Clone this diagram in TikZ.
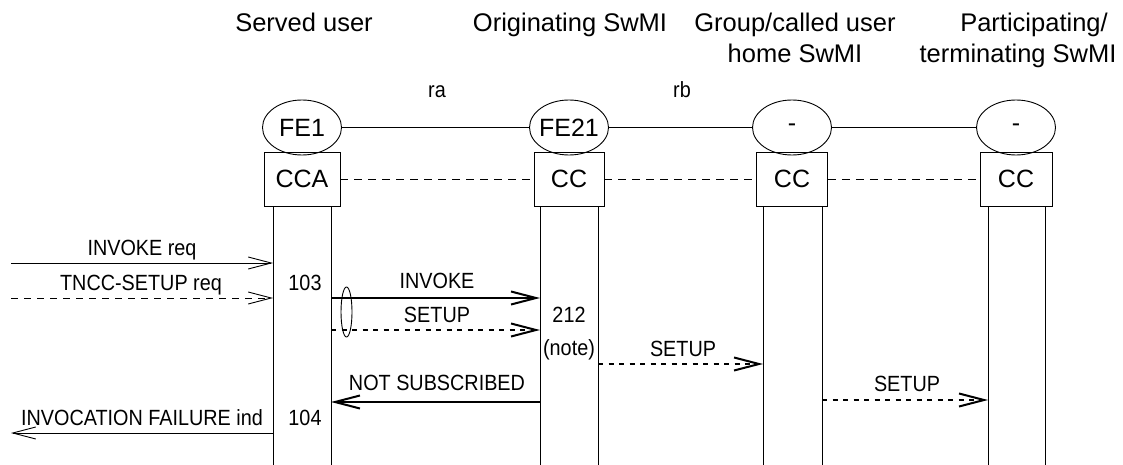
\documentclass[tikz,border=0pt]{standalone}
\usepackage{fontspec}
\setmainfont{Liberation Sans}
\newfontfamily\msgfont[FakeStretch=0.9]{Liberation Sans}
\usetikzlibrary{arrows.meta,shapes.geometric}
\begin{document}
\begin{tikzpicture}[x=1pt,y=-1pt,
  hdr/.style={font=\fontsize{25.5}{31}\selectfont, inner sep=0pt, anchor=base},
  lbl/.style={font=\msgfont\fontsize{22}{26}\selectfont, inner sep=0pt, anchor=base},
  fe/.style={draw, ellipse, minimum width=79pt, minimum height=55pt, inner sep=0pt, line width=0.9pt},
  fetext/.style={font=\fontsize{25}{30}\selectfont, inner sep=0pt},
  ccbox/.style={draw, rectangle, minimum height=54pt, inner sep=0pt, line width=0.9pt, font=\fontsize{25}{30}\selectfont},
  life/.style={line width=0.9pt},
  thinarr/.style={line width=0.9pt, -{Straight Barb[length=23pt,width=12pt]}},
  thickarr/.style={line width=2pt, -{Straight Barb[length=25pt,width=13pt]}},
  thindash/.style={dash pattern=on 7pt off 6pt},
  thickdot/.style={dash pattern=on 5pt off 5.5pt}
]
\useasboundingbox (0,0) rectangle (1123,465);

% headers
\node[hdr] (h1) at (304,32) {Served user};
\node[hdr] (h2) at (570,32) {Originating SwMI};
\node[hdr] (h3a) at (795,32) {Group/called user};
\node[hdr] (h3b) at (795,63) {home SwMI};
\node[hdr] (h4a) at (1034,32) {Participating/};
\node[hdr] (h4b) at (1018,63) {terminating SwMI};

% relationship labels
\node[lbl] (ra) at (437,98) {ra};
\node[lbl] (rb) at (682,98) {rb};

% functional entities
\node[fe] (fe1) at (302,127.5) {};
\node[fe] (fe2) at (569,127.5) {};
\node[fe] (fe3) at (792,127.5) {};
\node[fe] (fe4) at (1016,127.5) {};
\node[fetext] (fe1t) at (fe1) {FE1};
\node[fetext] (fe2t) at (fe2) {FE21};
\node[fetext] (fe3t) at (fe3) {-};
\node[fetext] (fe4t) at (fe4) {-};
\draw[line width=0.9pt] (fe1) -- (fe2);
\draw[line width=0.9pt] (fe2) -- (fe3);
\draw[line width=0.9pt] (fe3) -- (fe4);

% boxes
\node[ccbox, minimum width=76pt] (b1) at (302,179) {CCA};
\node[ccbox, minimum width=70pt] (b2) at (569,179) {CC};
\node[ccbox, minimum width=71pt] (b3) at (792,179) {CC};
\node[ccbox, minimum width=72pt] (b4) at (1016,179) {CC};
\draw[line width=0.9pt, dash pattern=on 8pt off 6pt] (b1) -- (b2);
\draw[line width=0.9pt, dash pattern=on 8pt off 6pt] (b2) -- (b3);
\draw[line width=0.9pt, dash pattern=on 8pt off 6pt] (b3) -- (b4);

% lifelines
\coordinate (l1at) at (273,206); \coordinate (l1ab) at (273,465);
\coordinate (l1bt) at (331,206); \coordinate (l1bb) at (331,465);
\coordinate (l2at) at (540,206); \coordinate (l2ab) at (540,465);
\coordinate (l2bt) at (598,206); \coordinate (l2bb) at (598,465);
\coordinate (l3at) at (763,206); \coordinate (l3ab) at (763,465);
\coordinate (l3bt) at (822,206); \coordinate (l3bb) at (822,465);
\coordinate (l4at) at (988,206); \coordinate (l4ab) at (988,465);
\coordinate (l4bt) at (1045,206); \coordinate (l4bb) at (1045,465);
\draw[life] (l1at) -- (l1ab);
\draw[life] (l1bt) -- (l1bb);
\draw[life] (l2at) -- (l2ab);
\draw[life] (l2bt) -- (l2bb);
\draw[life] (l3at) -- (l3ab);
\draw[life] (l3bt) -- (l3bb);
\draw[life] (l4at) -- (l4ab);
\draw[life] (l4bt) -- (l4bb);

% message end points
\coordinate (m1s) at (11,263);  \coordinate (m1e) at (273,263);
\coordinate (m2s) at (11,298);  \coordinate (m2e) at (273,298);
\coordinate (m3s) at (331,298); \coordinate (m3e) at (540,298);
\coordinate (m4s) at (331,330); \coordinate (m4e) at (540,330);
\coordinate (m5s) at (598,364); \coordinate (m5e) at (763,364);
\coordinate (m6s) at (540,402); \coordinate (m6e) at (331,402);
\coordinate (m7s) at (273,433); \coordinate (m7e) at (11,433);
\coordinate (m8s) at (822,400); \coordinate (m8e) at (988,400);

% messages
\draw[thinarr] (m1s) -- (m1e);
\node[lbl] (t1) at (142,255) {INVOKE req};
\draw[thinarr, thindash] (m2s) -- (m2e);
\node[lbl] (t2) at (141,290) {TNCC-SETUP req};
\node[lbl] (n103) at (305,290) {103};

\draw[thickarr] (m3s) -- (m3e);
\node[lbl] (t3) at (437,288) {INVOKE};
\draw[thickarr, thickdot] (m4s) -- (m4e);
\node[lbl] (t4) at (437,322) {SETUP};
\node[draw, ellipse, line width=0.9pt, minimum width=11pt, minimum height=50pt, inner sep=0pt] (grp) at (346.5,312) {};

\node[lbl] (n212) at (569,322) {212};
\node[lbl] (note) at (569,355) {(note)};

\draw[thickarr, thickdot] (m5s) -- (m5e);
\node[lbl] (t5) at (683,356) {SETUP};

\draw[thickarr] (m6s) -- (m6e);
\node[lbl] (t6) at (437,390) {NOT SUBSCRIBED};
\node[lbl] (n104) at (305,425) {104};
\draw[thinarr] (m7s) -- (m7e);
\node[lbl] (t7) at (142,425) {INVOCATION FAILURE ind};

\draw[thickarr, thickdot] (m8s) -- (m8e);
\node[lbl] (t8) at (907,391) {SETUP};
\end{tikzpicture}
\end{document}
